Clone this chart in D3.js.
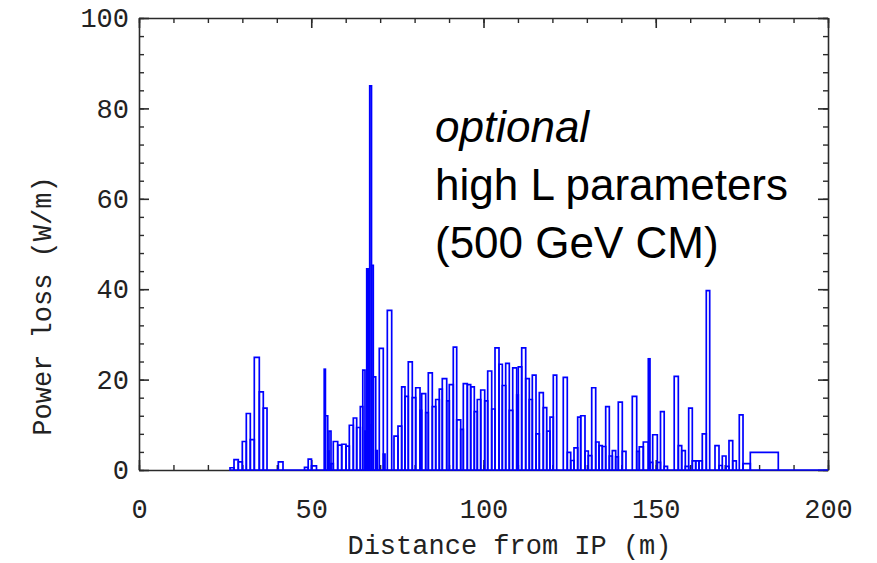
<!DOCTYPE html>
<html>
<head>
<meta charset="utf-8">
<script src="https://cdn.jsdelivr.net/npm/d3@7"></script>
<style>
  body { margin: 0; background: #fff; }
  .axis-text { font-family: "Liberation Mono", monospace; font-size: 27px; fill: #222; }
  .note { font-family: "Liberation Sans", Arial, sans-serif; font-size: 44px; fill: #000; }
</style>
</head>
<body>
<div id="chart"></div>
<script>
// Bin edges along the beam line (m), one more than the number of bins
const binEdges = [
  26.42, 27.58, 28.82, 29.99, 31.15, 32.31, 33.47, 34.92, 36.08, 37.16,
  40.44, 41.80, 48.04, 49.11, 50.07, 51.52, 53.76, 54.11, 54.78, 55.15,
  55.73, 56.40, 57.68, 58.84, 60.09, 61.05, 62.21, 63.19, 64.24, 64.96,
  65.60, 66.10, 66.56, 66.97, 67.49, 68.01, 68.71, 69.17, 69.75, 70.91,
  71.41, 72.08, 73.35, 74.02, 75.18, 76.25, 77.21, 78.17, 79.33, 80.32,
  81.57, 82.06, 83.22, 83.98, 85.14, 86.13, 87.17, 88.04, 89.32, 90.07,
  91.23, 92.22, 93.38, 94.14, 95.30, 96.28, 97.33, 98.20, 99.19, 100.35,
  101.22, 102.38, 103.34, 104.50, 105.46, 106.44, 107.49, 108.48, 109.64, 110.10,
  111.09, 112.25, 113.29, 114.17, 115.24, 116.20, 117.36, 118.35, 119.30, 120.26,
  121.25, 123.16, 124.32, 125.31, 126.27, 127.34, 128.21, 129.46, 130.42, 131.41,
  132.57, 133.53, 134.49, 135.47, 136.52, 137.39, 138.37, 139.13, 140.29, 141.36,
  143.19, 144.47, 145.22, 146.39, 147.84, 148.33, 149.11, 150.45, 151.38, 152.45,
  153.41, 155.36, 156.55, 157.53, 158.58, 159.56, 160.61, 161.60, 162.55, 163.51,
  164.67, 165.66, 167.20, 168.36, 169.32, 170.39, 171.26, 172.34, 173.38, 174.25,
  175.33, 177.45, 185.57, 200
];

// Power loss per bin (W/m)
const powerLoss = [
  0.5, 2.3, 1.8, 6.3, 12.5, 6.7, 24.9, 17.3, 13.7, 0,
  1.8, 0, 0.6, 2.4, 0.9, 0, 22.3, 12, 4.2, 8.6,
  1.4, 6.3, 5.5, 5.7, 5.3, 9.9, 11.5, 9.4, 14, 22.1,
  8.6, 44.5, 10, 85, 45.3, 20.6, 4.3, 0, 26.9, 3.5,
  0, 35.3, 0, 7.5, 9.7, 18.4, 16.3, 23.9, 16, 18.2,
  13.2, 16.9, 12.7, 21.5, 14, 15.6, 17.9, 20.2, 15.3, 18.9,
  27.2, 11.1, 9, 19.1, 18.9, 18.4, 12.9, 15.6, 17.7, 15.3,
  21.9, 13.5, 27, 23.4, 18.7, 23.6, 13.2, 22.6, 16.6, 22.8,
  27, 20.2, 15.6, 21, 8, 17.1, 13.8, 8.6, 11.7, 21,
  0, 20.5, 3.9, 2.1, 4.9, 11.7, 12, 4.2, 3.2, 18.2,
  6.2, 5.4, 5.2, 14, 3.1, 4.3, 2.9, 15, 4.1, 0,
  16.3, 4.1, 5.1, 6.2, 24.6, 1.7, 7.8, 1.7, 12.9, 0.8,
  0, 20.7, 5.4, 4.3, 0.8, 13.7, 2, 2, 2, 8,
  39.7, 0, 5.4, 1, 3.1, 0.8, 6.5, 2, 0, 12.2,
  1.4, 3.9, 0
];

const xTicks = [0, 50, 100, 150, 200];
const yTicks = [0, 20, 40, 60, 80, 100];
const noteLines = ["optional", "high L parameters", "(500 GeV CM)"];

const margin = { top: 18, right: 49, bottom: 93, left: 139 };
const width = 877 - margin.left - margin.right;
const height = 563 - margin.top - margin.bottom;

const svg = d3.select("#chart")
  .append("svg")
  .attr("width", 877)
  .attr("height", 563)
  .append("g")
  .attr("transform", "translate(" + margin.left + "," + margin.top + ")");

// Scales
const x = d3.scaleLinear().domain([0, 200]).range([0, width]);
const y = d3.scaleLinear().domain([0, 100]).range([height, 0]);

const axisColor = "#2a2a2a";

// Frame with inward ticks on all four sides
function drawAxis(axis, transform, major) {
  let g = svg.append("g")
    .attr("transform", transform)
    .call(axis.tickSizeInner(-10).tickSizeOuter(0).tickValues(major));
  g.select(".domain").attr("stroke", axisColor).attr("stroke-width", 1.6);
  g.selectAll(".tick line").attr("stroke", axisColor).attr("stroke-width", 1.6);
  return g;
}

const xMinor = d3.range(0, 201, 10);
const yMinor = d3.range(0, 101, 4);

const xBottom = drawAxis(d3.axisBottom(x), "translate(0," + height + ")", xTicks);
xBottom.selectAll(".tick text")
  .attr("class", "axis-text")
  .attr("font-family", null).attr("font-size", null)
  .attr("y", 29).attr("dy", "0.71em");

const yLeft = drawAxis(d3.axisLeft(y), "translate(0,0)", yTicks);
yLeft.selectAll(".tick text")
  .attr("class", "axis-text")
  .attr("font-family", null).attr("font-size", null)
  .attr("x", -10);

const xTop = drawAxis(d3.axisTop(x), "translate(0,0)", xTicks);
xTop.selectAll(".tick text").remove();
const yRight = drawAxis(d3.axisRight(y), "translate(" + width + ",0)", yTicks);
yRight.selectAll(".tick text").remove();

// Minor ticks
[[d3.axisBottom(x), "translate(0," + height + ")", xMinor],
 [d3.axisTop(x), "translate(0,0)", xMinor],
 [d3.axisLeft(y), "translate(0,0)", yMinor],
 [d3.axisRight(y), "translate(" + width + ",0)", yMinor]].forEach(([ax, tr, vals]) => {
  let g = svg.append("g")
    .attr("transform", tr)
    .call(ax.tickSizeInner(-5).tickSizeOuter(0).tickValues(vals).tickFormat(""));
  g.select(".domain").remove();
  g.selectAll(".tick line").attr("stroke", axisColor).attr("stroke-width", 1.4);
});

// Histogram bins as open outlines
const bins = powerLoss.map((v, i) => ({ x0: binEdges[i], x1: binEdges[i + 1], v: v }));

svg.append("g")
  .selectAll("path")
  .data(bins)
  .enter()
  .append("path")
  .attr("d", d => "M" + x(d.x0) + "," + y(0) + "V" + y(d.v) + "H" + x(d.x1) + "V" + y(0) + "Z")
  .attr("fill", "none")
  .attr("stroke", "#0000ff")
  .attr("stroke-width", 1.7)
  .attr("stroke-linejoin", "miter");

// Axis titles
svg.append("text")
  .attr("class", "axis-text")
  .attr("x", width / 2 + 26)
  .attr("y", height + 84)
  .attr("text-anchor", "middle")
  .text("Distance from IP (m)");

svg.append("text")
  .attr("class", "axis-text")
  .attr("transform", "rotate(-90)")
  .attr("x", -288)
  .attr("y", -88)
  .attr("text-anchor", "middle")
  .text("Power loss (W/m)");

// Annotation
noteLines.forEach((line, i) => {
  svg.append("text")
    .attr("class", "note")
    .attr("x", 296)
    .attr("y", 124 + i * 58)
    .style("font-style", i === 0 ? "italic" : "normal")
    .text(line);
});
</script>
</body>
</html>
